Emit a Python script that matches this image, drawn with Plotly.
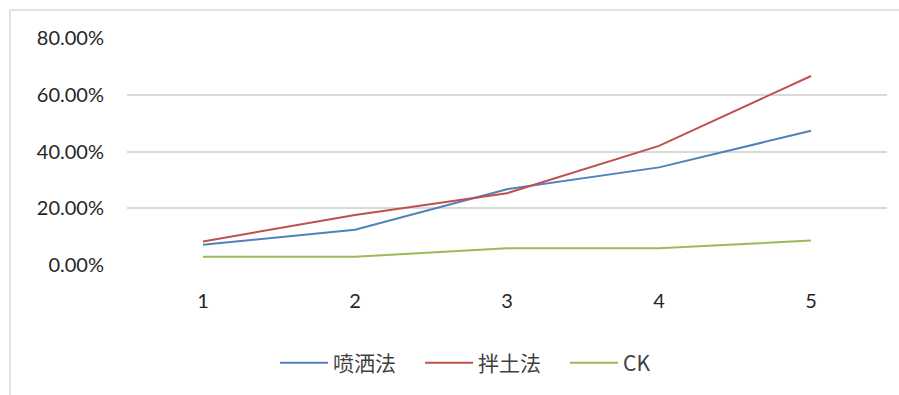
import plotly.graph_objects as go

# Treatment rounds on the x axis
rounds = ["1", "2", "3", "4", "5"]

# Rates for each method (fractions, shown as percentages)
spray = [0.071, 0.124, 0.267, 0.344, 0.473]
soil_mix = [0.083, 0.176, 0.253, 0.420, 0.666]
ck = [0.029, 0.029, 0.059, 0.059, 0.086]

y_ticks = [0.0, 0.2, 0.4, 0.6, 0.8]

FONT = "Lato, 'Noto Sans CJK SC', sans-serif"
W, H = 899, 395
L, R, T, B = 127, 12, 38, 130

fig = go.Figure()
series = [
    ("喷洒法", spray, "#4F81BD"),
    ("拌土法", soil_mix, "#C0504D"),
    ("CK", ck, "#9BBB59"),
]
for name, vals, color in series:
    fig.add_trace(go.Scatter(
        x=rounds, y=vals, name=name, mode="lines",
        line=dict(color=color, width=2),
    ))

# light chart-area frame (left and top edges visible)
pw, ph = W - L - R, H - T - B
fig.add_shape(
    type="rect", xref="paper", yref="paper",
    x0=(10 - L) / pw, x1=(W + 20 - L) / pw,
    y0=-(H + 20 - (H - B)) / ph, y1=(H - B - 10) / ph,
    line=dict(color="#D9D9D9", width=1.5), layer="below",
)

fig.update_layout(
    width=W, height=H,
    margin=dict(l=L, r=R, t=T, b=B),
    paper_bgcolor="white", plot_bgcolor="white",
    font=dict(family=FONT, size=20, color="#262626"),
    showlegend=True,
    legend=dict(
        orientation="h", x=0.481, xanchor="center",
        y=(H - B - 363) / ph, yanchor="middle",
        font=dict(family="'Noto Sans CJK SC', Lato, sans-serif", size=21, color="#404040"),
        entrywidth=82, itemwidth=48,
    ),
)
fig.update_xaxes(
    type="category", range=[-0.5, 4.5],
    showgrid=False, zeroline=False, showline=False,
    ticks="", ticklabelstandoff=22,
    tickfont=dict(family=FONT, size=20, color="#262626"),
)
fig.update_yaxes(
    range=[0, 0.8], tickvals=y_ticks, tickformat=".2%",
    showgrid=True, gridcolor="#D9D9D9", gridwidth=1.5,
    zeroline=False, showline=False, ticks="", ticklabelstandoff=22,
    tickfont=dict(family=FONT, size=20, color="#262626"),
)

fig.write_html("out.html")
